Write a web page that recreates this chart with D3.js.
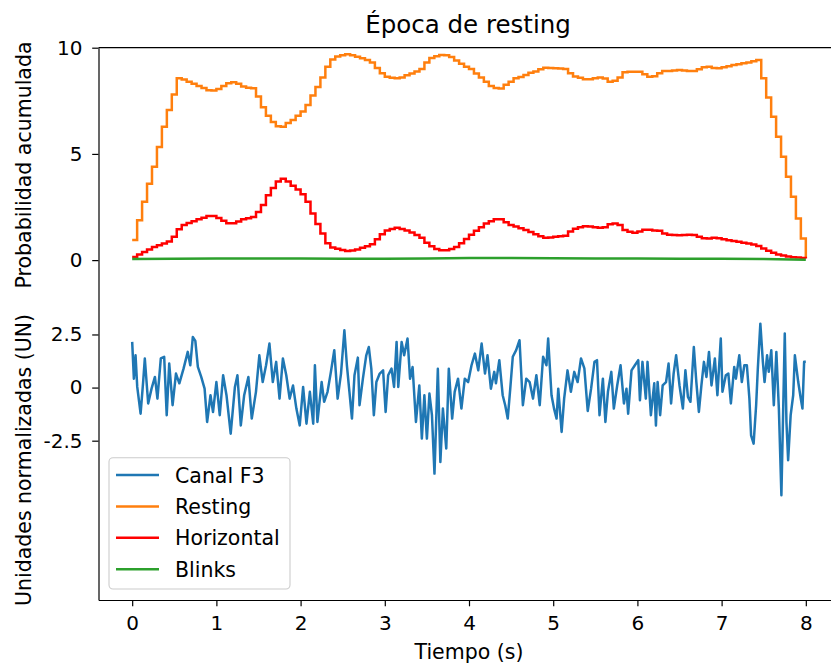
<!DOCTYPE html>
<html>
<head>
<meta charset="utf-8">
<script src="https://cdn.jsdelivr.net/npm/d3@7"></script>
<style>
  html, body { margin: 0; padding: 0; background: #fff; }
  svg { display: block; font-family: "DejaVu Sans", sans-serif; }
  .tick text { font-size: 20px; fill: #000; }
</style>
</head>
<body>
<svg id="chart" width="831" height="665"></svg>
<script>
// ---------------- DATA ----------------
const T_END = 8;
const xTicks = [0, 1, 2, 3, 4, 5, 6, 7, 8];
const probTicks = [0, 5, 10];
const unTicks = [2.5, 0, -2.5];
const unTickLabels = ["2.5", "0", "-2.5"];
const signalOffset = -6;

// Cumulative probabilities (evenly spaced over 0..8 s)
const restingValues = [
  0.95, 1.88, 2.75, 3.6, 4.4, 5.33, 6.28, 7.07, 7.8, 8.56,
  8.5, 8.4, 8.3, 8.2, 8.1, 8.0, 7.99, 8.05, 8.2, 8.33,
  8.37, 8.3, 8.17, 8.12, 8.09, 7.7, 7.2, 6.8, 6.5, 6.3,
  6.28, 6.45, 6.6, 6.8, 7.0, 7.3, 7.75, 8.15, 8.6, 9.1,
  9.45, 9.58, 9.65, 9.69, 9.65, 9.57, 9.5, 9.42, 9.3, 9.05,
  8.8, 8.63, 8.58, 8.56, 8.6, 8.7, 8.78, 8.88, 9.0, 9.3,
  9.52, 9.6, 9.66, 9.64, 9.56, 9.4, 9.25, 9.1, 9.0, 8.78,
  8.6, 8.4, 8.2, 8.1, 8.08, 8.25, 8.4, 8.56, 8.62, 8.72,
  8.82, 8.88, 8.98, 9.06, 9.05, 9.03, 9.02, 9.0, 8.8, 8.65,
  8.58, 8.51, 8.52, 8.56, 8.6, 8.55, 8.4, 8.45, 8.6, 8.85,
  8.87, 8.87, 8.87, 8.75, 8.63, 8.66, 8.8, 8.9, 8.9, 8.93,
  8.95, 8.93, 8.9, 8.9, 8.98, 9.08, 9.1, 9.05, 9.03, 9.08,
  9.13, 9.18, 9.22, 9.27, 9.3, 9.36, 9.42, 8.56, 7.65, 6.75,
  5.81, 4.87, 3.92, 2.98, 1.96, 1.02, 0.1
];
const horizontalValues = [
  0.15, 0.27, 0.38, 0.5, 0.62, 0.7, 0.78, 0.88, 1.1, 1.45,
  1.65, 1.75, 1.83, 1.93, 2.0, 2.08, 2.08, 1.98, 1.85, 1.73,
  1.74, 1.82, 1.92, 1.97, 2.03, 2.26, 2.6, 3.05, 3.4, 3.7,
  3.83, 3.7, 3.5, 3.32, 3.1, 2.75, 2.2, 1.7, 1.25, 0.8,
  0.6, 0.53, 0.48, 0.43, 0.45, 0.5, 0.58, 0.65, 0.75, 0.98,
  1.22, 1.4, 1.47, 1.52, 1.47, 1.4, 1.3, 1.18, 1.05, 0.82,
  0.65, 0.52, 0.46, 0.46, 0.52, 0.62, 0.8, 1.0, 1.2, 1.38,
  1.55, 1.72, 1.83, 1.93, 1.93, 1.78, 1.65, 1.58, 1.5, 1.42,
  1.32, 1.22, 1.12, 1.05, 1.07, 1.1, 1.12, 1.15, 1.35, 1.48,
  1.55, 1.6, 1.58, 1.55, 1.52, 1.55, 1.69, 1.72, 1.65, 1.42,
  1.33, 1.29, 1.35, 1.43, 1.43, 1.4, 1.38, 1.25, 1.2, 1.18,
  1.17, 1.18, 1.2, 1.18, 1.1, 1.03, 1.02, 1.05, 1.03, 0.98,
  0.94, 0.9, 0.86, 0.82, 0.78, 0.73, 0.66, 0.55, 0.44, 0.35,
  0.27, 0.22, 0.17, 0.14, 0.12, 0.1, 0.08
];
const blinksValues = [
  0.05, 0.07, 0.08, 0.08, 0.08, 0.07, 0.07, 0.08, 0.1,
  0.1, 0.09, 0.08, 0.08, 0.07, 0.06, 0.05, 0.02
];

// EEG channel F3 (normalized units)
const f3Time = [
  0.00,0.02,0.04,0.06,0.10,0.13,0.15,0.19,0.23,0.27,0.30,0.34,0.38,0.41,0.44,0.48,0.52,0.56,0.61,0.66,
  0.69,0.72,0.75,0.78,0.82,0.86,0.89,0.93,0.96,1.00,1.04,1.08,1.12,1.17,1.22,1.25,1.29,1.33,1.38,1.42,
  1.47,1.51,1.55,1.59,1.63,1.67,1.71,1.75,1.79,1.83,1.87,1.91,1.95,1.99,2.03,2.07,2.11,2.15,2.17,2.20,
  2.25,2.28,2.32,2.36,2.40,2.44,2.48,2.52,2.55,2.58,2.61,2.64,2.68,2.70,2.74,2.78,2.81,2.84,2.87,2.90,
  2.94,2.98,3.01,3.04,3.08,3.11,3.14,3.16,3.20,3.23,3.27,3.30,3.33,3.37,3.41,3.44,3.47,3.50,3.53,3.56,
  3.59,3.63,3.66,3.69,3.73,3.76,3.80,3.83,3.87,3.91,3.95,3.99,4.03,4.07,4.11,4.15,4.19,4.22,4.26,4.30,
  4.32,4.36,4.40,4.43,4.46,4.49,4.52,4.56,4.60,4.64,4.68,4.72,4.76,4.80,4.84,4.88,4.92,4.94,4.98,5.01,
  5.04,5.06,5.10,5.13,5.17,5.21,5.25,5.29,5.33,5.37,5.41,5.45,5.49,5.52,5.55,5.59,5.62,5.65,5.69,5.72,
  5.76,5.80,5.84,5.87,5.89,5.93,5.97,6.01,6.03,6.06,6.10,6.12,6.16,6.20,6.22,6.24,6.27,6.30,6.34,6.37,
  6.40,6.43,6.46,6.50,6.54,6.57,6.60,6.63,6.67,6.70,6.73,6.76,6.79,6.82,6.85,6.88,6.92,6.95,6.99,7.01,
  7.05,7.08,7.11,7.15,7.17,7.21,7.24,7.27,7.30,7.33,7.35,7.38,7.41,7.43,7.46,7.49,7.51,7.54,7.56,7.59,
  7.62,7.65,7.68,7.71,7.75,7.77,7.79,7.82,7.85,7.87,7.91,7.94,7.96,7.98,8.00
];
const f3Values = [
  2.15,0.42,1.52,0.03,-1.23,0.26,1.37,-0.75,-0.05,0.5,-0.52,1.37,1.45,-1.3,1.13,-0.83,0.66,0.2,0.89,1.68,
  1.05,2.38,2.2,0.97,0.5,-0.05,-1.62,-0.36,-1.15,0.26,-1.3,0.58,-0.36,-2.17,0.03,0.58,-1.78,-0.36,0.5,-1.46,
  -0.2,1.52,0.26,1.05,2.07,0.26,1.21,-0.52,1.37,0.58,-0.52,0.1,-0.99,-1.78,0.03,-1.7,-0.2,-1.7,1.05,-1.62,
  0.26,-0.67,-0.2,0.74,1.76,-0.52,0.66,2.7,1.05,-0.2,-1.46,0.58,1.41,-0.83,0.42,1.52,1.91,0.89,-1.3,0.26,
  0.66,0.81,-1.15,0.58,0.89,0.03,2.15,0.03,2.15,1.52,2.31,0.42,0.97,-1.62,0.1,-2.4,-0.36,-2.4,-0.28,-1.3,
  -4.05,0.89,-3.5,-0.99,-2.87,0.89,-1.46,-0.2,0.42,-0.99,0.42,0.26,1.05,1.6,0.81,2.07,0.66,1.52,-0.05,0.74,
  0.2,1.29,-0.36,-0.83,-1.46,-0.05,1.45,1.76,2.23,-0.83,0.42,0.26,-0.52,0.58,-0.83,1.45,1.05,2.31,-0.36,-0.99,
  -1.46,-0.05,-2.09,-0.52,0.81,-0.2,0.74,0.26,1.37,0.9,-1.1,-0.05,1.21,1.29,-1.3,0.42,-1.62,-0.2,0.74,-0.99,
  0.1,1.05,-0.75,-0.05,-1.23,0.81,1.05,1.29,-0.6,1.21,-0.52,1.21,-1.3,0.2,-1.78,0.26,-1.3,0.1,0.26,1.13,
  -0.75,0.66,1.52,0.1,-0.99,0.81,-0.44,-0.67,1.91,0.26,-1.15,0.1,1.21,0.5,1.68,0.1,1.37,-0.36,2.31,-0.2,
  0.58,0.66,-0.75,0.97,0.42,1.52,0.26,1.05,1.05,-0.52,-2.25,-2.64,-0.83,0.89,3.01,1.21,0.26,1.52,0.74,1.76,
  -0.83,1.68,-0.99,-5.07,2.54,-1.62,-3.42,-1.3,-0.36,1.52,0.26,-0.52,-0.99,1.21,1.21
];

const seriesColors = { f3: "#1f77b4", resting: "#ff7f0e", horizontal: "#ff0000", blinks: "#2ca02c" };
const legendLabels = ["Canal F3", "Resting", "Horizontal", "Blinks"];

// ---------------- LAYOUT ----------------
const svg = d3.select("#chart");
const plot = { left: 98.5, right: 839.5, top: 47.7, bottom: 600 };
const LW = 2.5;

const x = d3.scaleLinear().domain([-0.4, 8.4]).range([plot.left, plot.right]);
const y = d3.scaleLinear().domain([-16, 10]).range([plot.bottom, plot.top]);

const tOf = (arr) => (d, i) => x(T_END * i / (arr.length - 1));

// ---------------- LINES ----------------
const g = svg.append("g");

const f3Line = d3.line()
  .x((d, i) => x(f3Time[i]))
  .y(d => y(d + signalOffset))
  .curve(d3.curveLinear);
g.append("path").datum(f3Values)
  .attr("d", f3Line).attr("fill", "none")
  .attr("stroke", seriesColors.f3).attr("stroke-width", LW).attr("stroke-linejoin", "round");

function stepLine(arr) {
  return d3.line().x(tOf(arr)).y(d => y(d)).curve(d3.curveStepAfter);
}
g.append("path").datum(restingValues)
  .attr("d", stepLine(restingValues)).attr("fill", "none")
  .attr("stroke", seriesColors.resting).attr("stroke-width", LW);
g.append("path").datum(horizontalValues)
  .attr("d", stepLine(horizontalValues)).attr("fill", "none")
  .attr("stroke", seriesColors.horizontal).attr("stroke-width", LW);
g.append("path").datum(blinksValues)
  .attr("d", d3.line().x(tOf(blinksValues)).y(d => y(d))).attr("fill", "none")
  .attr("stroke", seriesColors.blinks).attr("stroke-width", LW);

// ---------------- AXES ----------------
const yTickValues = probTicks.concat(unTicks.map(u => u + signalOffset));
const yTickLabels = probTicks.map(String).concat(unTickLabels);

const yAxis = d3.axisLeft(y)
  .tickValues(yTickValues)
  .tickFormat((d, i) => yTickLabels[i])
  .tickSize(6.3).tickPadding(9.7).tickSizeOuter(0);
const yG = svg.append("g").attr("transform", `translate(${plot.left},0)`).call(yAxis);

const xAxis = d3.axisBottom(x)
  .tickValues(xTicks).tickFormat(d3.format("d"))
  .tickSize(6.3).tickPadding(6.3).tickSizeOuter(0);
const xG = svg.append("g").attr("transform", `translate(0,${plot.bottom})`).call(xAxis);

[yG, xG].forEach(a => {
  a.selectAll(".domain").attr("stroke", "#000").attr("stroke-width", 1.2);
  a.selectAll(".tick line").attr("stroke", "#000").attr("stroke-width", 1.2);
  a.selectAll(".tick text").style("font-family", "DejaVu Sans").style("font-size", "20px");
});
xG.selectAll(".tick text").attr("dy", null).attr("y", 30).attr("dominant-baseline", "auto");

// top spine
svg.append("line")
  .attr("x1", plot.left).attr("x2", plot.right)
  .attr("y1", plot.top).attr("y2", plot.top)
  .attr("stroke", "#000").attr("stroke-width", 1.2);

// ---------------- TEXT ----------------
svg.append("text")
  .attr("x", 468).attr("y", 33)
  .attr("text-anchor", "middle").style("font-size", "24.5px").attr("fill", "#000")
  .text("Época de resting");

svg.append("text")
  .attr("x", 469).attr("y", 659)
  .attr("text-anchor", "middle").style("font-size", "20.5px").attr("fill", "#000")
  .text("Tiempo (s)");

svg.append("text")
  .attr("transform", "translate(30.5,165) rotate(-90)")
  .attr("text-anchor", "middle").style("font-size", "20.5px").attr("fill", "#000")
  .text("Probabilidad acumulada");

svg.append("text")
  .attr("transform", "translate(30.5,460) rotate(-90)")
  .attr("text-anchor", "middle").style("font-size", "20.5px").attr("fill", "#000")
  .text("Unidades normalizadas (UN)");

// ---------------- LEGEND ----------------
const legend = svg.append("g");
legend.append("rect")
  .attr("x", 109).attr("y", 457.7).attr("width", 181).attr("height", 131.3)
  .attr("rx", 4).attr("ry", 4)
  .attr("fill", "#fff").attr("fill-opacity", 0.8)
  .attr("stroke", "#cccccc").attr("stroke-width", 1.1);
const legendColors = [seriesColors.f3, seriesColors.resting, seriesColors.horizontal, seriesColors.blinks];
legendLabels.forEach((lab, i) => {
  const ly = 475 + i * 31.4;
  legend.append("line")
    .attr("x1", 116).attr("x2", 159).attr("y1", ly).attr("y2", ly)
    .attr("stroke", legendColors[i]).attr("stroke-width", LW);
  legend.append("text")
    .attr("x", 175).attr("y", ly + 7.5)
    .style("font-size", "20.5px").attr("fill", "#000")
    .text(lab);
});
</script>
</body>
</html>
